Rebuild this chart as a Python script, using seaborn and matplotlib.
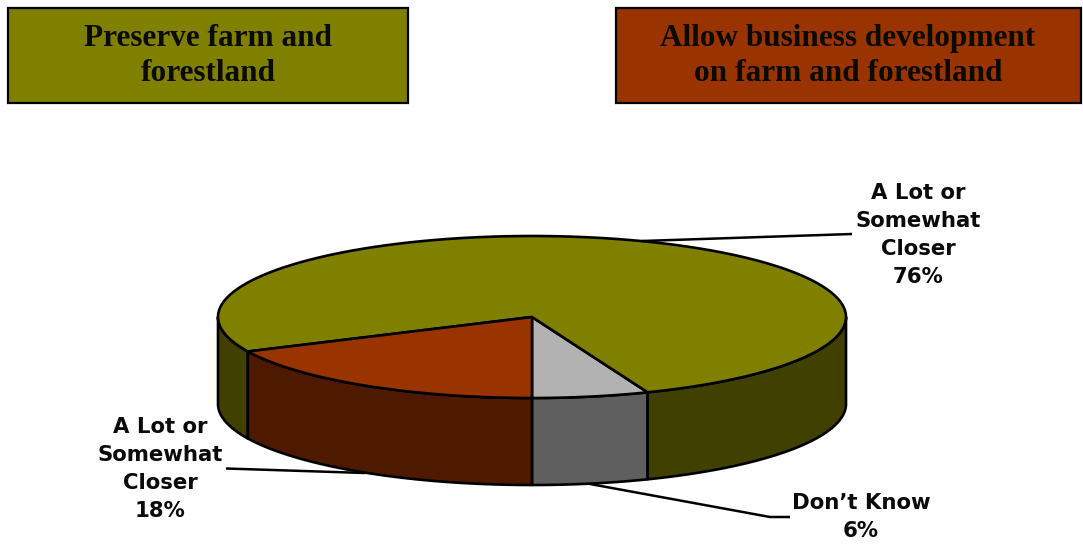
import numpy as np
import matplotlib
matplotlib.use("Agg")
import matplotlib.pyplot as plt
from matplotlib.patches import Rectangle
import seaborn as sns

# Survey shares, listed counter-clockwise from the front of the pie
slice_names = ["Don't Know", "Preserve: A Lot or Somewhat Closer", "Allow: A Lot or Somewhat Closer"]
slice_values = [6, 76, 18]
top_colors = ["#B2B2B2", "#808000", "#993300"]
wall_colors = ["#5F5F5F", "#404000", "#4D1A00"]

header_texts = ["Preserve farm and\nforestland", "Allow business development\non farm and forestland"]
header_colors = ["#808000", "#993300"]

callout_texts = ["A Lot or\nSomewhat\nCloser\n76%", "A Lot or\nSomewhat\nCloser\n18%", "Don\u2019t Know\n6%"]

sns.set_theme(style="white")
W, H = 1083, 550
fig = plt.figure(figsize=(W / 100, H / 100), dpi=100)
ax = fig.add_axes([0, 0, 1, 1])
ax.set_xlim(0, W)
ax.set_ylim(H, 0)
ax.axis("off")

# Pie projection, in pixels
CX, CY, RX, RY, DEPTH = 532, 317, 314, 81, 87


def rim(deg):
    a = np.radians(deg)
    return CX + RX * np.cos(a), CY - RY * np.sin(a)


def arc(start, stop):
    return rim(np.linspace(start, stop, 200))


# Slice boundaries in degrees, beginning at the front of the pie
edges = 270 + np.concatenate([[0], np.cumsum(slice_values)]) * 3.6

# Side walls: only the part of each slice on the front half is visible
for low, high, wall in zip(edges[:-1], edges[1:], wall_colors):
    for lo, hi in [(180, 360), (540, 720)]:
        a, b = max(low, lo), min(high, hi)
        if a >= b:
            continue
        x, y = arc(a, b)
        ax.fill(np.r_[x, x[::-1]], np.r_[y, y[::-1] + DEPTH],
                facecolor=wall, edgecolor="black", lw=1.9, joinstyle="round", zorder=2)

# Top faces
for low, high, top in zip(edges[:-1], edges[1:], top_colors):
    x, y = arc(low, high)
    ax.fill(np.r_[CX, x], np.r_[CY, y], facecolor=top, edgecolor="black",
            lw=1.9, joinstyle="round", zorder=3)

# Header boxes
boxes = [(8, 8, 400, 95), (616, 8, 465, 95)]
centers = [208, 848]
for (bx, by, bw, bh), label, color, cx in zip(boxes, header_texts, header_colors, centers):
    ax.add_patch(Rectangle((bx, by), bw, bh, facecolor=color, edgecolor="black", lw=1.6, zorder=4))
    ax.text(cx, 56, label, ha="center", va="center", family="Liberation Serif", weight="bold",
            fontsize=22.5, linespacing=1.3, color="#0A0A00", zorder=5)

# Leader lines
leaders = [([642, 852], [241, 234]), ([226, 365], [468.5, 473]), ([590, 770, 790], [484, 517, 517])]
for lx, ly in leaders:
    ax.plot(lx, ly, color="black", lw=1.8, zorder=4, solid_capstyle="butt")

# Callouts
callout_pos = [(918, 235), (160, 469), (861, 517)]
for (tx, ty), label in zip(callout_pos, callout_texts):
    ax.text(tx, ty, label, ha="center", va="center", family="DejaVu Sans", weight="bold",
            fontsize=15.3, linespacing=1.5, color="#0A0A0A", zorder=5)

fig.savefig("out.png", dpi=100, facecolor="white")
